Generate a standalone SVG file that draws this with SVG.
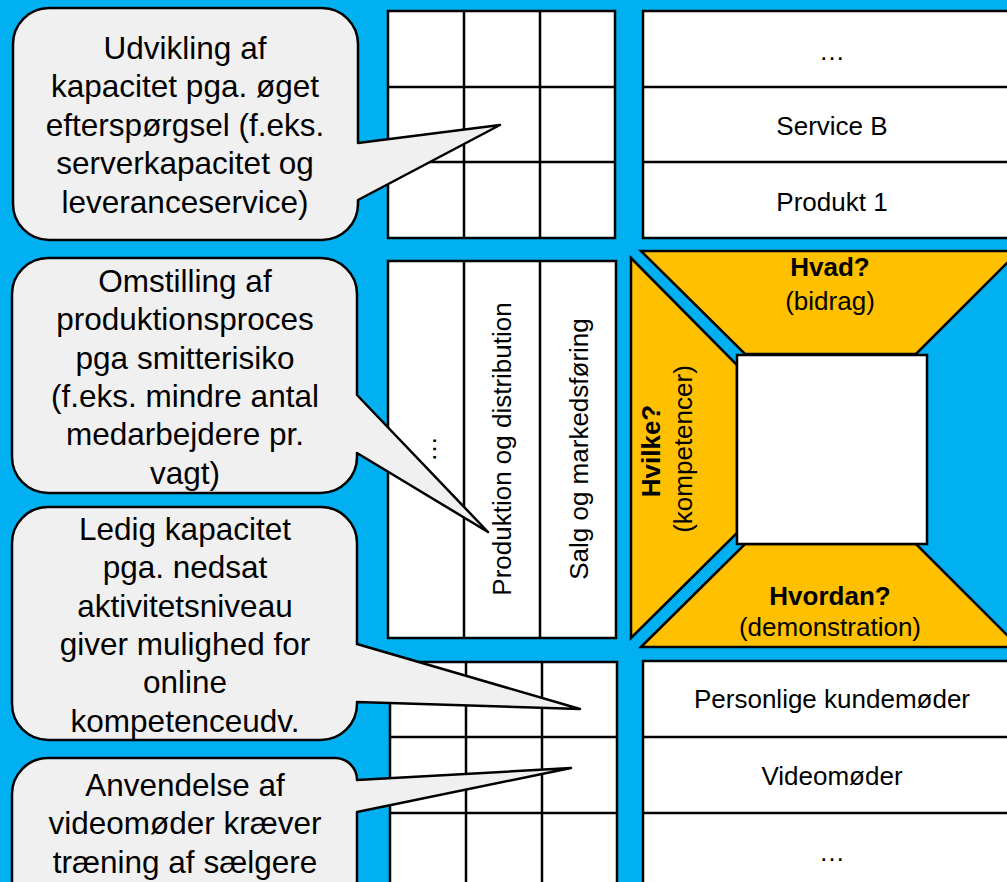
<svg xmlns="http://www.w3.org/2000/svg" width="1007" height="882" viewBox="0 0 1007 882">
<defs>
<style>
.cell{fill:#FFFFFF;stroke:#000;stroke-width:2.5}
.ln{stroke:#000;stroke-width:2.5;fill:none}
.trap{fill:#FFC000;stroke:#000;stroke-width:2.5;stroke-linejoin:miter}
.call{fill:#F0F0F0;stroke:#000;stroke-width:2.5;stroke-linejoin:round}
.t{font-family:"Liberation Sans",Arial,sans-serif;font-size:26px;fill:#000;text-anchor:middle}
.b{font-weight:bold}
.ct{font-family:"Liberation Sans",Arial,sans-serif;font-size:31.5px;fill:#000;text-anchor:middle}
</style>
</defs>
<rect x="0" y="0" width="1007" height="882" fill="#00B0F0"/>

<g id="grid-top">
<rect class="cell" x="388" y="11" width="227" height="227"/>
<path class="ln" d="M464 11V238M540 11V238M388 87H615M388 162H615"/>
</g>

<g id="list-top">
<rect class="cell" x="643" y="11" width="380" height="227"/>
<path class="ln" d="M643 87H1023M643 162H1023"/>
<text class="t" x="832" y="60">…</text>
<text class="t" x="832" y="135">Service B</text>
<text class="t" x="832" y="211">Produkt 1</text>
</g>

<g id="functions">
<rect class="cell" x="388" y="261" width="228" height="377"/>
<path class="ln" d="M464 261V638M540 261V638"/>
<text class="t" transform="translate(436,449) rotate(-90)">…</text>
<text class="t" transform="translate(511,449) rotate(-90)">Produktion og distribution</text>
<text class="t" transform="translate(588,449) rotate(-90)">Salg og markedsføring</text>
</g>

<g id="frame">
<polygon class="trap" points="641,251 1019,251 916,354 745,354"/>
<polygon class="trap" points="631,258 737,365 737,533 631,638"/>
<polygon class="trap" points="641,647 745,544 916,544 1019,647"/>
<rect class="cell" x="737" y="355" width="190" height="189"/>
<text class="t b" x="830" y="276">Hvad?</text>
<text class="t" x="830" y="310">(bidrag)</text>
<text class="t b" x="830" y="605">Hvordan?</text>
<text class="t" x="830" y="636">(demonstration)</text>
<text class="t b" transform="translate(660,451) rotate(-90)">Hvilke?</text>
<text class="t" transform="translate(692,449) rotate(-90)">(kompetencer)</text>
</g>

<g id="grid-bottom">
<rect class="cell" x="390" y="662" width="227" height="240"/>
<path class="ln" d="M466 662V902M542 662V902M390 737H617M390 813H617"/>
</g>

<g id="list-bottom">
<rect class="cell" x="643" y="661" width="380" height="240"/>
<path class="ln" d="M643 737H1023M643 813H1023"/>
<text class="t" x="832" y="708">Personlige kundemøder</text>
<text class="t" x="832" y="785">Videomøder</text>
<text class="t" x="832" y="861">…</text>
</g>

<g id="connectors"></g>

<g id="callout-1">
<path class="call" d="M49 8H322A36 36 0 0 1 358 44V143L500 125L358 200V204A36 36 0 0 1 322 240H49A36 36 0 0 1 13 204V44A36 36 0 0 1 49 8Z"/>
<text class="ct" x="185" y="59"><tspan x="185">Udvikling af</tspan><tspan x="185" dy="38.4">kapacitet pga. øget</tspan><tspan x="185" dy="38.4">efterspørgsel (f.eks.</tspan><tspan x="185" dy="38.4">serverkapacitet og</tspan><tspan x="185" dy="38.4">leveranceservice)</tspan></text>
</g>

<g id="callout-2">
<path class="call" d="M48 258H321A36 36 0 0 1 357 294V395L488 532L357 453V457A36 36 0 0 1 321 493H48A36 36 0 0 1 12 457V294A36 36 0 0 1 48 258Z"/>
<text class="ct" x="185" y="292"><tspan x="185">Omstilling af</tspan><tspan x="185" dy="38.3">produktionsproces</tspan><tspan x="185" dy="38.3">pga smitterisiko</tspan><tspan x="185" dy="38.3">(f.eks. mindre antal</tspan><tspan x="185" dy="38.3">medarbejdere pr.</tspan><tspan x="185" dy="38.3">vagt)</tspan></text>
</g>

<g id="callout-3">
<path class="call" d="M48 507H321A36 36 0 0 1 357 543V644L580 709L357 702V704A36 36 0 0 1 321 740H48A36 36 0 0 1 12 704V543A36 36 0 0 1 48 507Z"/>
<text class="ct" x="185" y="540"><tspan x="185">Ledig kapacitet</tspan><tspan x="185" dy="38.3">pga. nedsat</tspan><tspan x="185" dy="38.3">aktivitetsniveau</tspan><tspan x="185" dy="38.3">giver mulighed for</tspan><tspan x="185" dy="38.3">online</tspan><tspan x="185" dy="38.3">kompetenceudv.</tspan></text>
</g>

<g id="callout-4">
<path class="call" d="M48 758H335A22 22 0 0 1 357 780L571 768L357 812V954A36 36 0 0 1 321 990H48A36 36 0 0 1 12 954V794A36 36 0 0 1 48 758Z"/>
<text class="ct" x="185" y="796"><tspan x="185">Anvendelse af</tspan><tspan x="185" dy="38.4">videomøder kræver</tspan><tspan x="185" dy="38.4">træning af sælgere</tspan></text>
</g>
</svg>
